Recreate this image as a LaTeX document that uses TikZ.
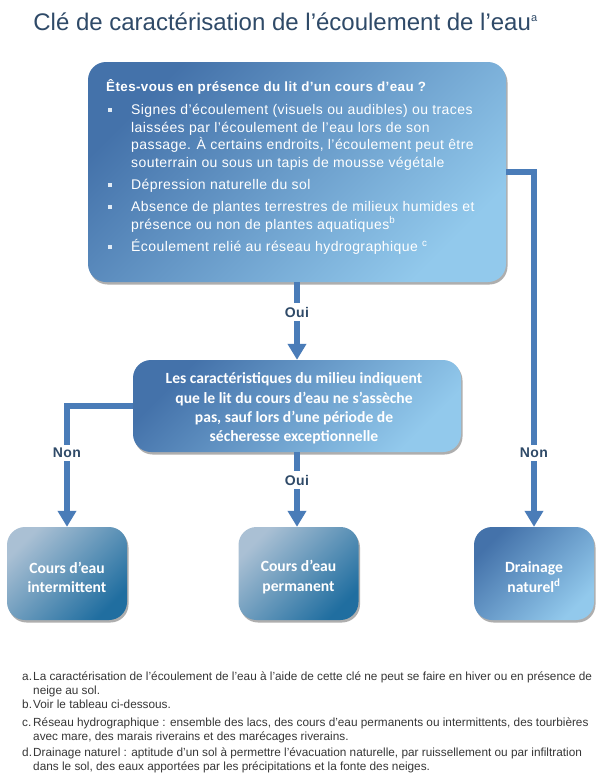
\documentclass[tikz,border=0pt]{standalone}
\usepackage{fontspec}
\setmainfont{Liberation Sans}
\newfontfamily\calfont{Carlito}
\newfontfamily\widefont[LetterSpace=3]{Liberation Sans}
\usetikzlibrary{arrows.meta,shadows}
\definecolor{titleblue}{RGB}{47,74,104}
\definecolor{arrowblue}{RGB}{74,124,184}
\definecolor{boxdark}{RGB}{68,114,170}
\definecolor{boxlight}{RGB}{146,201,236}
\definecolor{palelight}{RGB}{170,192,212}
\definecolor{paledark}{RGB}{32,110,160}
\definecolor{notegray}{RGB}{55,55,55}
\definecolor{bulletwhite}{RGB}{225,235,245}
\begin{document}
\begin{tikzpicture}[x=1pt,y=-1pt,
  shadowed/.style={drop shadow={shadow xshift=1.5pt,shadow yshift=-2.5pt,opacity=0.45,fill=black!70}},
  bluebox/.style={shadowed,rounded corners=18pt,top color=boxdark,bottom color=boxlight,shading angle=45,inner sep=0pt},
  palebox/.style={shadowed,rounded corners=18pt,top color=palelight,bottom color=paledark,shading angle=45,inner sep=0pt},
  flow/.style={draw=arrowblue,line width=5.5pt},
  tipped/.style={-{Triangle[width=18pt,length=16pt]}},
  lbl/.style={fill=white,text=titleblue,font=\widefont\bfseries\fontsize{14}{16}\selectfont,inner xsep=2pt,inner ysep=3.5pt},
  item/.style={anchor=base west,align=left,text=white,inner sep=0pt,font=\widefont\fontsize{14}{17.6}\selectfont},
  bullet/.style={fill=bulletwhite,minimum size=3.6pt,inner sep=0pt},
  calbox/.style={text=white,align=center,font=\calfont\bfseries\fontsize{15.6}{19.2}\selectfont},
  note/.style={anchor=base west,align=left,text=notegray,inner sep=0pt,font=\fontsize{11.8}{14}\selectfont},
]
\useasboundingbox[fill=white] (0,0) rectangle (599,782);

% title
\node[text=titleblue,font=\fontsize{24}{27}\selectfont,inner sep=0pt] (title) at (285.5,22)
  {Clé de caractérisation de l’écoulement de l’eau\textsuperscript{\fontsize{11}{12}\selectfont a}};

% boxes
\node[bluebox,minimum width=418pt,minimum height=220pt] (q1) at (297,172) {};
\node[bluebox,minimum width=328pt,minimum height=92pt] (mid) at (297,406) {};
\node[palebox,minimum width=120pt,minimum height=93pt] (inter) at (67,573.5) {};
\node[palebox,minimum width=120pt,minimum height=93pt] (perm) at (298.5,573.5) {};
\node[bluebox,minimum width=120pt,minimum height=93pt] (drain) at (534,573.5) {};

% top box text
\node[anchor=base west,text=white,inner sep=0pt,font=\widefont\bfseries\fontsize{13.4}{15}\selectfont] (head) at (106,91)
  {Êtes-vous en présence du lit d’un cours d’eau ?};
\node[item] (i1) at (131,167.3) {Signes d’écoulement (visuels ou audibles) ou traces\\laissées par l’écoulement de l’eau lors de son\\passage. À certains endroits, l’écoulement peut être\\souterrain ou sous un tapis de mousse végétale};
\node[item] (i2) at (131,189.5) {Dépression naturelle du sol};
\node[item] (i3) at (131,229.1) {Absence de plantes terrestres de milieux humides et\\présence ou non de plantes aquatiques\textsuperscript{b}};
\node[item] (i4) at (131,251.5) {Écoulement relié au réseau hydrographique \textsuperscript{c}};
\node[bullet] (m1) at (110,110) {};
\node[bullet] (m2) at (110,185) {};
\node[bullet] (m3) at (110,207) {};
\node[bullet] (m4) at (110,247) {};

% middle box text
\node[calbox] (midtxt) at (294,408.5) {Les caractéristiques du milieu indiquent\\que le lit du cours d’eau ne s’assèche\\pas, sauf lors d’une période de\\sécheresse exceptionnelle};

% bottom box texts
\node[calbox] (intertxt) at (67,577) {Cours d’eau\\intermittent};
\node[calbox] (permtxt) at (298.5,577) {Cours d’eau\\permanent};
\node[calbox] (draintxt) at (534,577) {Drainage\\naturel\textsuperscript{d}};

% connectors
\draw[flow,tipped] (q1.south) -- (mid.north);
\draw[flow,tipped] (q1.east) -| (drain.north);
\draw[flow,tipped] (mid.west) -| (inter.north);
\draw[flow,tipped] (mid.south) -- (mid.south |- perm.north);

% labels
\node[lbl] (oui1) at (297,312) {Oui};
\node[lbl] (oui2) at (297,480) {Oui};
\node[lbl] (non1) at (67,453) {Non};
\node[lbl] (non2) at (534,453) {Non};

% footnotes
\node[note] (na) at (22,680) {a.};
\node[note] (ta) at (33,694) {La caractérisation de l’écoulement de l’eau à l’aide de cette clé ne peut se faire en hiver ou en présence de\\neige au sol.};
\node[note] (nb) at (22,708) {b.};
\node[note] (tb) at (33,708) {Voir le tableau ci-dessous.};
\node[note] (nc) at (22,726) {c.};
\node[note] (tc) at (33,740) {Réseau hydrographique : ensemble des lacs, des cours d’eau permanents ou intermittents, des tourbières\\avec mare, des marais riverains et des marécages riverains.};
\node[note] (nd) at (22,756) {d.};
\node[note] (td) at (33,770) {Drainage naturel : aptitude d’un sol à permettre l’évacuation naturelle, par ruissellement ou par infiltration\\dans le sol, des eaux apportées par les précipitations et la fonte des neiges.};
\end{tikzpicture}
\end{document}
